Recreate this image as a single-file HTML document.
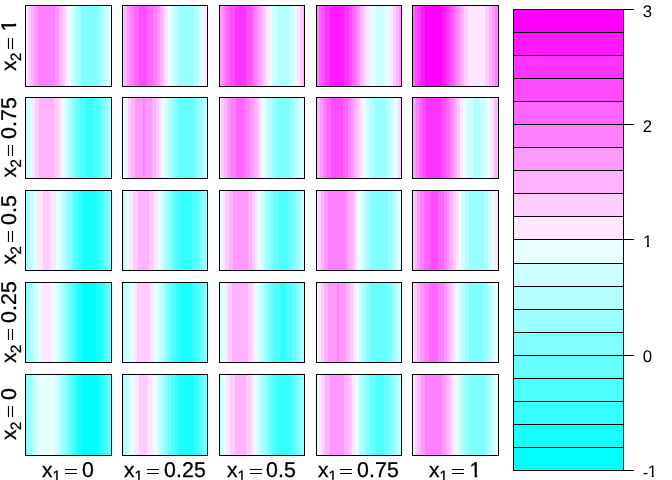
<!DOCTYPE html>
<html lang="en"><head><meta charset="utf-8"><title>plot</title>
<style>
html,body{margin:0;padding:0;background:#fff;}
body{width:672px;height:480px;overflow:hidden;position:relative;font-family:"Liberation Sans",Arial,sans-serif;color:#000;}
svg{position:absolute;left:0;top:0;display:block;}
.t{position:absolute;white-space:nowrap;line-height:1;}
</style></head><body>
<svg width="672" height="480" viewBox="0 0 672 480" shape-rendering="crispEdges">
<rect x="0" y="0" width="672" height="480" fill="#FFFFFF"/>
<g>
<rect x="26" y="6" width="2" height="80" fill="#FFE6FF"/>
<rect x="28" y="6" width="3" height="80" fill="#FFCCFF"/>
<rect x="31" y="6" width="3" height="80" fill="#FFB3FF"/>
<rect x="34" y="6" width="4" height="80" fill="#FF99FF"/>
<rect x="38" y="6" width="17" height="80" fill="#FF80FF"/>
<rect x="55" y="6" width="4" height="80" fill="#FF99FF"/>
<rect x="59" y="6" width="3" height="80" fill="#FFB3FF"/>
<rect x="62" y="6" width="3" height="80" fill="#FFCCFF"/>
<rect x="65" y="6" width="3" height="80" fill="#FFE6FF"/>
<rect x="68" y="6" width="3" height="80" fill="#E6FFFF"/>
<rect x="71" y="6" width="3" height="80" fill="#CCFFFF"/>
<rect x="74" y="6" width="3" height="80" fill="#B3FFFF"/>
<rect x="77" y="6" width="4" height="80" fill="#99FFFF"/>
<rect x="81" y="6" width="17" height="80" fill="#80FFFF"/>
<rect x="98" y="6" width="4" height="80" fill="#99FFFF"/>
<rect x="102" y="6" width="3" height="80" fill="#B3FFFF"/>
<rect x="105" y="6" width="3" height="80" fill="#CCFFFF"/>
<rect x="108" y="6" width="3" height="80" fill="#E6FFFF"/>
<rect x="25.5" y="5.5" width="86" height="81" fill="none" stroke="#000" stroke-width="1"/>
</g>
<g>
<rect x="123" y="6" width="1" height="80" fill="#FFCCFF"/>
<rect x="124" y="6" width="3" height="80" fill="#FFB3FF"/>
<rect x="127" y="6" width="3" height="80" fill="#FF99FF"/>
<rect x="130" y="6" width="4" height="80" fill="#FF80FF"/>
<rect x="134" y="6" width="5" height="80" fill="#FF66FF"/>
<rect x="139" y="6" width="8" height="80" fill="#FF4CFF"/>
<rect x="147" y="6" width="6" height="80" fill="#FF66FF"/>
<rect x="153" y="6" width="4" height="80" fill="#FF80FF"/>
<rect x="157" y="6" width="3" height="80" fill="#FF99FF"/>
<rect x="160" y="6" width="3" height="80" fill="#FFB3FF"/>
<rect x="163" y="6" width="2" height="80" fill="#FFCCFF"/>
<rect x="165" y="6" width="3" height="80" fill="#FFE6FF"/>
<rect x="168" y="6" width="3" height="80" fill="#E6FFFF"/>
<rect x="171" y="6" width="4" height="80" fill="#CCFFFF"/>
<rect x="175" y="6" width="4" height="80" fill="#B3FFFF"/>
<rect x="179" y="6" width="15" height="80" fill="#99FFFF"/>
<rect x="194" y="6" width="4" height="80" fill="#B3FFFF"/>
<rect x="198" y="6" width="3" height="80" fill="#CCFFFF"/>
<rect x="201" y="6" width="3" height="80" fill="#E6FFFF"/>
<rect x="204" y="6" width="3" height="80" fill="#FFE6FF"/>
<rect x="122.5" y="5.5" width="85" height="81" fill="none" stroke="#000" stroke-width="1"/>
</g>
<g>
<rect x="220" y="6" width="3" height="80" fill="#FF99FF"/>
<rect x="223" y="6" width="3" height="80" fill="#FF80FF"/>
<rect x="226" y="6" width="4" height="80" fill="#FF66FF"/>
<rect x="230" y="6" width="5" height="80" fill="#FF4CFF"/>
<rect x="235" y="6" width="11" height="80" fill="#FF33FF"/>
<rect x="246" y="6" width="5" height="80" fill="#FF4CFF"/>
<rect x="251" y="6" width="3" height="80" fill="#FF66FF"/>
<rect x="254" y="6" width="3" height="80" fill="#FF80FF"/>
<rect x="257" y="6" width="3" height="80" fill="#FF99FF"/>
<rect x="260" y="6" width="3" height="80" fill="#FFB3FF"/>
<rect x="263" y="6" width="3" height="80" fill="#FFCCFF"/>
<rect x="266" y="6" width="3" height="80" fill="#FFE6FF"/>
<rect x="269" y="6" width="3" height="80" fill="#E6FFFF"/>
<rect x="272" y="6" width="5" height="80" fill="#CCFFFF"/>
<rect x="277" y="6" width="12" height="80" fill="#B3FFFF"/>
<rect x="289" y="6" width="5" height="80" fill="#CCFFFF"/>
<rect x="294" y="6" width="3" height="80" fill="#E6FFFF"/>
<rect x="297" y="6" width="3" height="80" fill="#FFE6FF"/>
<rect x="300" y="6" width="3" height="80" fill="#FFCCFF"/>
<rect x="303" y="6" width="1" height="80" fill="#FFB3FF"/>
<rect x="219.5" y="5.5" width="85" height="81" fill="none" stroke="#000" stroke-width="1"/>
</g>
<g>
<rect x="317" y="6" width="2" height="80" fill="#FF80FF"/>
<rect x="319" y="6" width="3" height="80" fill="#FF66FF"/>
<rect x="322" y="6" width="3" height="80" fill="#FF4CFF"/>
<rect x="325" y="6" width="5" height="80" fill="#FF33FF"/>
<rect x="330" y="6" width="14" height="80" fill="#FF19FF"/>
<rect x="344" y="6" width="5" height="80" fill="#FF33FF"/>
<rect x="349" y="6" width="3" height="80" fill="#FF4CFF"/>
<rect x="352" y="6" width="3" height="80" fill="#FF66FF"/>
<rect x="355" y="6" width="3" height="80" fill="#FF80FF"/>
<rect x="358" y="6" width="2" height="80" fill="#FF99FF"/>
<rect x="360" y="6" width="3" height="80" fill="#FFB3FF"/>
<rect x="363" y="6" width="3" height="80" fill="#FFCCFF"/>
<rect x="366" y="6" width="4" height="80" fill="#FFE6FF"/>
<rect x="370" y="6" width="6" height="80" fill="#E6FFFF"/>
<rect x="376" y="6" width="8" height="80" fill="#CCFFFF"/>
<rect x="384" y="6" width="5" height="80" fill="#E6FFFF"/>
<rect x="389" y="6" width="4" height="80" fill="#FFE6FF"/>
<rect x="393" y="6" width="3" height="80" fill="#FFCCFF"/>
<rect x="396" y="6" width="3" height="80" fill="#FFB3FF"/>
<rect x="399" y="6" width="2" height="80" fill="#FF99FF"/>
<rect x="316.5" y="5.5" width="85" height="81" fill="none" stroke="#000" stroke-width="1"/>
</g>
<g>
<rect x="413" y="6" width="2" height="80" fill="#FF66FF"/>
<rect x="415" y="6" width="3" height="80" fill="#FF4CFF"/>
<rect x="418" y="6" width="3" height="80" fill="#FF33FF"/>
<rect x="421" y="6" width="4" height="80" fill="#FF19FF"/>
<rect x="425" y="6" width="17" height="80" fill="#FF00FF"/>
<rect x="442" y="6" width="4" height="80" fill="#FF19FF"/>
<rect x="446" y="6" width="3" height="80" fill="#FF33FF"/>
<rect x="449" y="6" width="3" height="80" fill="#FF4CFF"/>
<rect x="452" y="6" width="3" height="80" fill="#FF66FF"/>
<rect x="455" y="6" width="3" height="80" fill="#FF80FF"/>
<rect x="458" y="6" width="3" height="80" fill="#FF99FF"/>
<rect x="461" y="6" width="3" height="80" fill="#FFB3FF"/>
<rect x="464" y="6" width="4" height="80" fill="#FFCCFF"/>
<rect x="468" y="6" width="17" height="80" fill="#FFE6FF"/>
<rect x="485" y="6" width="4" height="80" fill="#FFCCFF"/>
<rect x="489" y="6" width="3" height="80" fill="#FFB3FF"/>
<rect x="492" y="6" width="3" height="80" fill="#FF99FF"/>
<rect x="495" y="6" width="3" height="80" fill="#FF80FF"/>
<rect x="412.5" y="5.5" width="86" height="81" fill="none" stroke="#000" stroke-width="1"/>
</g>
<g>
<rect x="26" y="98" width="3" height="80" fill="#CCFFFF"/>
<rect x="29" y="98" width="3" height="80" fill="#E6FFFF"/>
<rect x="32" y="98" width="3" height="80" fill="#FFE6FF"/>
<rect x="35" y="98" width="4" height="80" fill="#FFCCFF"/>
<rect x="39" y="98" width="15" height="80" fill="#FFB3FF"/>
<rect x="54" y="98" width="5" height="80" fill="#FFCCFF"/>
<rect x="59" y="98" width="3" height="80" fill="#FFE6FF"/>
<rect x="62" y="98" width="3" height="80" fill="#E6FFFF"/>
<rect x="65" y="98" width="3" height="80" fill="#CCFFFF"/>
<rect x="68" y="98" width="2" height="80" fill="#B3FFFF"/>
<rect x="70" y="98" width="3" height="80" fill="#99FFFF"/>
<rect x="73" y="98" width="3" height="80" fill="#80FFFF"/>
<rect x="76" y="98" width="4" height="80" fill="#66FFFF"/>
<rect x="80" y="98" width="6" height="80" fill="#4DFFFF"/>
<rect x="86" y="98" width="7" height="80" fill="#33FFFF"/>
<rect x="93" y="98" width="6" height="80" fill="#4DFFFF"/>
<rect x="99" y="98" width="3" height="80" fill="#66FFFF"/>
<rect x="102" y="98" width="4" height="80" fill="#80FFFF"/>
<rect x="106" y="98" width="2" height="80" fill="#99FFFF"/>
<rect x="108" y="98" width="3" height="80" fill="#B3FFFF"/>
<rect x="25.5" y="97.5" width="86" height="81" fill="none" stroke="#000" stroke-width="1"/>
</g>
<g>
<rect x="123" y="98" width="2" height="80" fill="#E6FFFF"/>
<rect x="125" y="98" width="3" height="80" fill="#FFE6FF"/>
<rect x="128" y="98" width="3" height="80" fill="#FFCCFF"/>
<rect x="131" y="98" width="4" height="80" fill="#FFB3FF"/>
<rect x="135" y="98" width="8" height="80" fill="#FF99FF"/>
<rect x="143" y="98" width="2" height="80" fill="#FF80FF"/>
<rect x="145" y="98" width="7" height="80" fill="#FF99FF"/>
<rect x="152" y="98" width="4" height="80" fill="#FFB3FF"/>
<rect x="156" y="98" width="3" height="80" fill="#FFCCFF"/>
<rect x="159" y="98" width="3" height="80" fill="#FFE6FF"/>
<rect x="162" y="98" width="3" height="80" fill="#E6FFFF"/>
<rect x="165" y="98" width="3" height="80" fill="#CCFFFF"/>
<rect x="168" y="98" width="3" height="80" fill="#B3FFFF"/>
<rect x="171" y="98" width="3" height="80" fill="#99FFFF"/>
<rect x="174" y="98" width="4" height="80" fill="#80FFFF"/>
<rect x="178" y="98" width="16" height="80" fill="#66FFFF"/>
<rect x="194" y="98" width="4" height="80" fill="#80FFFF"/>
<rect x="198" y="98" width="4" height="80" fill="#99FFFF"/>
<rect x="202" y="98" width="3" height="80" fill="#B3FFFF"/>
<rect x="205" y="98" width="2" height="80" fill="#CCFFFF"/>
<rect x="122.5" y="97.5" width="85" height="81" fill="none" stroke="#000" stroke-width="1"/>
</g>
<g>
<rect x="220" y="98" width="1" height="80" fill="#FFE6FF"/>
<rect x="221" y="98" width="3" height="80" fill="#FFCCFF"/>
<rect x="224" y="98" width="3" height="80" fill="#FFB3FF"/>
<rect x="227" y="98" width="3" height="80" fill="#FF99FF"/>
<rect x="230" y="98" width="6" height="80" fill="#FF80FF"/>
<rect x="236" y="98" width="9" height="80" fill="#FF66FF"/>
<rect x="245" y="98" width="5" height="80" fill="#FF80FF"/>
<rect x="250" y="98" width="4" height="80" fill="#FF99FF"/>
<rect x="254" y="98" width="3" height="80" fill="#FFB3FF"/>
<rect x="257" y="98" width="3" height="80" fill="#FFCCFF"/>
<rect x="260" y="98" width="2" height="80" fill="#FFE6FF"/>
<rect x="262" y="98" width="3" height="80" fill="#E6FFFF"/>
<rect x="265" y="98" width="3" height="80" fill="#CCFFFF"/>
<rect x="268" y="98" width="4" height="80" fill="#B3FFFF"/>
<rect x="272" y="98" width="4" height="80" fill="#99FFFF"/>
<rect x="276" y="98" width="14" height="80" fill="#80FFFF"/>
<rect x="290" y="98" width="4" height="80" fill="#99FFFF"/>
<rect x="294" y="98" width="4" height="80" fill="#B3FFFF"/>
<rect x="298" y="98" width="3" height="80" fill="#CCFFFF"/>
<rect x="301" y="98" width="2" height="80" fill="#E6FFFF"/>
<rect x="303" y="98" width="1" height="80" fill="#FFE6FF"/>
<rect x="219.5" y="97.5" width="85" height="81" fill="none" stroke="#000" stroke-width="1"/>
</g>
<g>
<rect x="317" y="98" width="3" height="80" fill="#FFB3FF"/>
<rect x="320" y="98" width="3" height="80" fill="#FF99FF"/>
<rect x="323" y="98" width="3" height="80" fill="#FF80FF"/>
<rect x="326" y="98" width="5" height="80" fill="#FF66FF"/>
<rect x="331" y="98" width="12" height="80" fill="#FF4CFF"/>
<rect x="343" y="98" width="5" height="80" fill="#FF66FF"/>
<rect x="348" y="98" width="3" height="80" fill="#FF80FF"/>
<rect x="351" y="98" width="3" height="80" fill="#FF99FF"/>
<rect x="354" y="98" width="3" height="80" fill="#FFB3FF"/>
<rect x="357" y="98" width="3" height="80" fill="#FFCCFF"/>
<rect x="360" y="98" width="3" height="80" fill="#FFE6FF"/>
<rect x="363" y="98" width="3" height="80" fill="#E6FFFF"/>
<rect x="366" y="98" width="3" height="80" fill="#CCFFFF"/>
<rect x="369" y="98" width="5" height="80" fill="#B3FFFF"/>
<rect x="374" y="98" width="11" height="80" fill="#99FFFF"/>
<rect x="385" y="98" width="5" height="80" fill="#B3FFFF"/>
<rect x="390" y="98" width="4" height="80" fill="#CCFFFF"/>
<rect x="394" y="98" width="3" height="80" fill="#E6FFFF"/>
<rect x="397" y="98" width="2" height="80" fill="#FFE6FF"/>
<rect x="399" y="98" width="2" height="80" fill="#FFCCFF"/>
<rect x="316.5" y="97.5" width="85" height="81" fill="none" stroke="#000" stroke-width="1"/>
</g>
<g>
<rect x="413" y="98" width="3" height="80" fill="#FF99FF"/>
<rect x="416" y="98" width="3" height="80" fill="#FF80FF"/>
<rect x="419" y="98" width="3" height="80" fill="#FF66FF"/>
<rect x="422" y="98" width="4" height="80" fill="#FF4CFF"/>
<rect x="426" y="98" width="15" height="80" fill="#FF33FF"/>
<rect x="441" y="98" width="5" height="80" fill="#FF4CFF"/>
<rect x="446" y="98" width="3" height="80" fill="#FF66FF"/>
<rect x="449" y="98" width="3" height="80" fill="#FF80FF"/>
<rect x="452" y="98" width="3" height="80" fill="#FF99FF"/>
<rect x="455" y="98" width="2" height="80" fill="#FFB3FF"/>
<rect x="457" y="98" width="3" height="80" fill="#FFCCFF"/>
<rect x="460" y="98" width="3" height="80" fill="#FFE6FF"/>
<rect x="463" y="98" width="4" height="80" fill="#E6FFFF"/>
<rect x="467" y="98" width="6" height="80" fill="#CCFFFF"/>
<rect x="473" y="98" width="7" height="80" fill="#B3FFFF"/>
<rect x="480" y="98" width="6" height="80" fill="#CCFFFF"/>
<rect x="486" y="98" width="4" height="80" fill="#E6FFFF"/>
<rect x="490" y="98" width="3" height="80" fill="#FFE6FF"/>
<rect x="493" y="98" width="2" height="80" fill="#FFCCFF"/>
<rect x="495" y="98" width="3" height="80" fill="#FFB3FF"/>
<rect x="412.5" y="97.5" width="86" height="81" fill="none" stroke="#000" stroke-width="1"/>
</g>
<g>
<rect x="26" y="191" width="1" height="79" fill="#99FFFF"/>
<rect x="27" y="191" width="3" height="79" fill="#B3FFFF"/>
<rect x="30" y="191" width="3" height="79" fill="#CCFFFF"/>
<rect x="33" y="191" width="4" height="79" fill="#E6FFFF"/>
<rect x="37" y="191" width="6" height="79" fill="#FFE6FF"/>
<rect x="43" y="191" width="7" height="79" fill="#FFCCFF"/>
<rect x="50" y="191" width="6" height="79" fill="#FFE6FF"/>
<rect x="56" y="191" width="4" height="79" fill="#E6FFFF"/>
<rect x="60" y="191" width="3" height="79" fill="#CCFFFF"/>
<rect x="63" y="191" width="3" height="79" fill="#B3FFFF"/>
<rect x="66" y="191" width="3" height="79" fill="#99FFFF"/>
<rect x="69" y="191" width="3" height="79" fill="#80FFFF"/>
<rect x="72" y="191" width="2" height="79" fill="#66FFFF"/>
<rect x="74" y="191" width="4" height="79" fill="#4DFFFF"/>
<rect x="78" y="191" width="4" height="79" fill="#33FFFF"/>
<rect x="82" y="191" width="15" height="79" fill="#19FFFF"/>
<rect x="97" y="191" width="4" height="79" fill="#33FFFF"/>
<rect x="101" y="191" width="3" height="79" fill="#4DFFFF"/>
<rect x="104" y="191" width="3" height="79" fill="#66FFFF"/>
<rect x="107" y="191" width="3" height="79" fill="#80FFFF"/>
<rect x="110" y="191" width="1" height="79" fill="#99FFFF"/>
<rect x="25.5" y="190.5" width="86" height="80" fill="none" stroke="#000" stroke-width="1"/>
</g>
<g>
<rect x="123" y="191" width="1" height="79" fill="#B3FFFF"/>
<rect x="124" y="191" width="2" height="79" fill="#CCFFFF"/>
<rect x="126" y="191" width="3" height="79" fill="#E6FFFF"/>
<rect x="129" y="191" width="4" height="79" fill="#FFE6FF"/>
<rect x="133" y="191" width="5" height="79" fill="#FFCCFF"/>
<rect x="138" y="191" width="11" height="79" fill="#FFB3FF"/>
<rect x="149" y="191" width="5" height="79" fill="#FFCCFF"/>
<rect x="154" y="191" width="4" height="79" fill="#FFE6FF"/>
<rect x="158" y="191" width="3" height="79" fill="#E6FFFF"/>
<rect x="161" y="191" width="2" height="79" fill="#CCFFFF"/>
<rect x="163" y="191" width="3" height="79" fill="#B3FFFF"/>
<rect x="166" y="191" width="3" height="79" fill="#99FFFF"/>
<rect x="169" y="191" width="3" height="79" fill="#80FFFF"/>
<rect x="172" y="191" width="3" height="79" fill="#66FFFF"/>
<rect x="175" y="191" width="5" height="79" fill="#4DFFFF"/>
<rect x="180" y="191" width="12" height="79" fill="#33FFFF"/>
<rect x="192" y="191" width="5" height="79" fill="#4DFFFF"/>
<rect x="197" y="191" width="3" height="79" fill="#66FFFF"/>
<rect x="200" y="191" width="3" height="79" fill="#80FFFF"/>
<rect x="203" y="191" width="3" height="79" fill="#99FFFF"/>
<rect x="206" y="191" width="1" height="79" fill="#B3FFFF"/>
<rect x="122.5" y="190.5" width="85" height="80" fill="none" stroke="#000" stroke-width="1"/>
</g>
<g>
<rect x="220" y="191" width="2" height="79" fill="#E6FFFF"/>
<rect x="222" y="191" width="3" height="79" fill="#FFE6FF"/>
<rect x="225" y="191" width="4" height="79" fill="#FFCCFF"/>
<rect x="229" y="191" width="4" height="79" fill="#FFB3FF"/>
<rect x="233" y="191" width="15" height="79" fill="#FF99FF"/>
<rect x="248" y="191" width="4" height="79" fill="#FFB3FF"/>
<rect x="252" y="191" width="3" height="79" fill="#FFCCFF"/>
<rect x="255" y="191" width="3" height="79" fill="#FFE6FF"/>
<rect x="258" y="191" width="3" height="79" fill="#E6FFFF"/>
<rect x="261" y="191" width="3" height="79" fill="#CCFFFF"/>
<rect x="264" y="191" width="2" height="79" fill="#B3FFFF"/>
<rect x="266" y="191" width="4" height="79" fill="#99FFFF"/>
<rect x="270" y="191" width="3" height="79" fill="#80FFFF"/>
<rect x="273" y="191" width="6" height="79" fill="#66FFFF"/>
<rect x="279" y="191" width="8" height="79" fill="#4DFFFF"/>
<rect x="287" y="191" width="5" height="79" fill="#66FFFF"/>
<rect x="292" y="191" width="4" height="79" fill="#80FFFF"/>
<rect x="296" y="191" width="3" height="79" fill="#99FFFF"/>
<rect x="299" y="191" width="3" height="79" fill="#B3FFFF"/>
<rect x="302" y="191" width="2" height="79" fill="#CCFFFF"/>
<rect x="219.5" y="190.5" width="85" height="80" fill="none" stroke="#000" stroke-width="1"/>
</g>
<g>
<rect x="317" y="191" width="1" height="79" fill="#FFE6FF"/>
<rect x="318" y="191" width="3" height="79" fill="#FFCCFF"/>
<rect x="321" y="191" width="3" height="79" fill="#FFB3FF"/>
<rect x="324" y="191" width="4" height="79" fill="#FF99FF"/>
<rect x="328" y="191" width="18" height="79" fill="#FF80FF"/>
<rect x="346" y="191" width="3" height="79" fill="#FF99FF"/>
<rect x="349" y="191" width="4" height="79" fill="#FFB3FF"/>
<rect x="353" y="191" width="3" height="79" fill="#FFCCFF"/>
<rect x="356" y="191" width="2" height="79" fill="#FFE6FF"/>
<rect x="358" y="191" width="3" height="79" fill="#E6FFFF"/>
<rect x="361" y="191" width="3" height="79" fill="#CCFFFF"/>
<rect x="364" y="191" width="3" height="79" fill="#B3FFFF"/>
<rect x="367" y="191" width="4" height="79" fill="#99FFFF"/>
<rect x="371" y="191" width="17" height="79" fill="#80FFFF"/>
<rect x="388" y="191" width="4" height="79" fill="#99FFFF"/>
<rect x="392" y="191" width="3" height="79" fill="#B3FFFF"/>
<rect x="395" y="191" width="3" height="79" fill="#CCFFFF"/>
<rect x="398" y="191" width="3" height="79" fill="#E6FFFF"/>
<rect x="316.5" y="190.5" width="85" height="80" fill="none" stroke="#000" stroke-width="1"/>
</g>
<g>
<rect x="413" y="191" width="2" height="79" fill="#FFCCFF"/>
<rect x="415" y="191" width="2" height="79" fill="#FFB3FF"/>
<rect x="417" y="191" width="3" height="79" fill="#FF99FF"/>
<rect x="420" y="191" width="4" height="79" fill="#FF80FF"/>
<rect x="424" y="191" width="6" height="79" fill="#FF66FF"/>
<rect x="430" y="191" width="8" height="79" fill="#FF4CFF"/>
<rect x="438" y="191" width="6" height="79" fill="#FF66FF"/>
<rect x="444" y="191" width="3" height="79" fill="#FF80FF"/>
<rect x="447" y="191" width="3" height="79" fill="#FF99FF"/>
<rect x="450" y="191" width="3" height="79" fill="#FFB3FF"/>
<rect x="453" y="191" width="3" height="79" fill="#FFCCFF"/>
<rect x="456" y="191" width="3" height="79" fill="#FFE6FF"/>
<rect x="459" y="191" width="2" height="79" fill="#E6FFFF"/>
<rect x="461" y="191" width="4" height="79" fill="#CCFFFF"/>
<rect x="465" y="191" width="4" height="79" fill="#B3FFFF"/>
<rect x="469" y="191" width="15" height="79" fill="#99FFFF"/>
<rect x="484" y="191" width="4" height="79" fill="#B3FFFF"/>
<rect x="488" y="191" width="3" height="79" fill="#CCFFFF"/>
<rect x="491" y="191" width="3" height="79" fill="#E6FFFF"/>
<rect x="494" y="191" width="3" height="79" fill="#FFE6FF"/>
<rect x="497" y="191" width="1" height="79" fill="#FFCCFF"/>
<rect x="412.5" y="190.5" width="86" height="80" fill="none" stroke="#000" stroke-width="1"/>
</g>
<g>
<rect x="26" y="283" width="1" height="79" fill="#80FFFF"/>
<rect x="27" y="283" width="3" height="79" fill="#99FFFF"/>
<rect x="30" y="283" width="3" height="79" fill="#B3FFFF"/>
<rect x="33" y="283" width="4" height="79" fill="#CCFFFF"/>
<rect x="37" y="283" width="5" height="79" fill="#E6FFFF"/>
<rect x="42" y="283" width="9" height="79" fill="#FFE6FF"/>
<rect x="51" y="283" width="6" height="79" fill="#E6FFFF"/>
<rect x="57" y="283" width="3" height="79" fill="#CCFFFF"/>
<rect x="60" y="283" width="3" height="79" fill="#B3FFFF"/>
<rect x="63" y="283" width="3" height="79" fill="#99FFFF"/>
<rect x="66" y="283" width="3" height="79" fill="#80FFFF"/>
<rect x="69" y="283" width="3" height="79" fill="#66FFFF"/>
<rect x="72" y="283" width="3" height="79" fill="#4DFFFF"/>
<rect x="75" y="283" width="3" height="79" fill="#33FFFF"/>
<rect x="78" y="283" width="4" height="79" fill="#19FFFF"/>
<rect x="82" y="283" width="14" height="79" fill="#00FFFF"/>
<rect x="96" y="283" width="5" height="79" fill="#19FFFF"/>
<rect x="101" y="283" width="3" height="79" fill="#33FFFF"/>
<rect x="104" y="283" width="3" height="79" fill="#4DFFFF"/>
<rect x="107" y="283" width="3" height="79" fill="#66FFFF"/>
<rect x="110" y="283" width="1" height="79" fill="#80FFFF"/>
<rect x="25.5" y="282.5" width="86" height="80" fill="none" stroke="#000" stroke-width="1"/>
</g>
<g>
<rect x="123" y="283" width="3" height="79" fill="#B3FFFF"/>
<rect x="126" y="283" width="3" height="79" fill="#CCFFFF"/>
<rect x="129" y="283" width="4" height="79" fill="#E6FFFF"/>
<rect x="133" y="283" width="4" height="79" fill="#FFE6FF"/>
<rect x="137" y="283" width="13" height="79" fill="#FFCCFF"/>
<rect x="150" y="283" width="4" height="79" fill="#FFE6FF"/>
<rect x="154" y="283" width="4" height="79" fill="#E6FFFF"/>
<rect x="158" y="283" width="3" height="79" fill="#CCFFFF"/>
<rect x="161" y="283" width="3" height="79" fill="#B3FFFF"/>
<rect x="164" y="283" width="2" height="79" fill="#99FFFF"/>
<rect x="166" y="283" width="3" height="79" fill="#80FFFF"/>
<rect x="169" y="283" width="3" height="79" fill="#66FFFF"/>
<rect x="172" y="283" width="4" height="79" fill="#4DFFFF"/>
<rect x="176" y="283" width="4" height="79" fill="#33FFFF"/>
<rect x="180" y="283" width="11" height="79" fill="#19FFFF"/>
<rect x="191" y="283" width="5" height="79" fill="#33FFFF"/>
<rect x="196" y="283" width="4" height="79" fill="#4DFFFF"/>
<rect x="200" y="283" width="3" height="79" fill="#66FFFF"/>
<rect x="203" y="283" width="3" height="79" fill="#80FFFF"/>
<rect x="206" y="283" width="1" height="79" fill="#99FFFF"/>
<rect x="122.5" y="282.5" width="85" height="80" fill="none" stroke="#000" stroke-width="1"/>
</g>
<g>
<rect x="220" y="283" width="2" height="79" fill="#CCFFFF"/>
<rect x="222" y="283" width="3" height="79" fill="#E6FFFF"/>
<rect x="225" y="283" width="3" height="79" fill="#FFE6FF"/>
<rect x="228" y="283" width="4" height="79" fill="#FFCCFF"/>
<rect x="232" y="283" width="16" height="79" fill="#FFB3FF"/>
<rect x="248" y="283" width="4" height="79" fill="#FFCCFF"/>
<rect x="252" y="283" width="3" height="79" fill="#FFE6FF"/>
<rect x="255" y="283" width="3" height="79" fill="#E6FFFF"/>
<rect x="258" y="283" width="3" height="79" fill="#CCFFFF"/>
<rect x="261" y="283" width="3" height="79" fill="#B3FFFF"/>
<rect x="264" y="283" width="3" height="79" fill="#99FFFF"/>
<rect x="267" y="283" width="3" height="79" fill="#80FFFF"/>
<rect x="270" y="283" width="3" height="79" fill="#66FFFF"/>
<rect x="273" y="283" width="7" height="79" fill="#4DFFFF"/>
<rect x="280" y="283" width="6" height="79" fill="#33FFFF"/>
<rect x="286" y="283" width="6" height="79" fill="#4DFFFF"/>
<rect x="292" y="283" width="4" height="79" fill="#66FFFF"/>
<rect x="296" y="283" width="3" height="79" fill="#80FFFF"/>
<rect x="299" y="283" width="3" height="79" fill="#99FFFF"/>
<rect x="302" y="283" width="2" height="79" fill="#B3FFFF"/>
<rect x="219.5" y="282.5" width="85" height="80" fill="none" stroke="#000" stroke-width="1"/>
</g>
<g>
<rect x="317" y="283" width="1" height="79" fill="#E6FFFF"/>
<rect x="318" y="283" width="3" height="79" fill="#FFE6FF"/>
<rect x="321" y="283" width="3" height="79" fill="#FFCCFF"/>
<rect x="324" y="283" width="4" height="79" fill="#FFB3FF"/>
<rect x="328" y="283" width="9" height="79" fill="#FF99FF"/>
<rect x="337" y="283" width="2" height="79" fill="#FF80FF"/>
<rect x="339" y="283" width="7" height="79" fill="#FF99FF"/>
<rect x="346" y="283" width="4" height="79" fill="#FFB3FF"/>
<rect x="350" y="283" width="3" height="79" fill="#FFCCFF"/>
<rect x="353" y="283" width="3" height="79" fill="#FFE6FF"/>
<rect x="356" y="283" width="3" height="79" fill="#E6FFFF"/>
<rect x="359" y="283" width="2" height="79" fill="#CCFFFF"/>
<rect x="361" y="283" width="3" height="79" fill="#B3FFFF"/>
<rect x="364" y="283" width="3" height="79" fill="#99FFFF"/>
<rect x="367" y="283" width="4" height="79" fill="#80FFFF"/>
<rect x="371" y="283" width="17" height="79" fill="#66FFFF"/>
<rect x="388" y="283" width="4" height="79" fill="#80FFFF"/>
<rect x="392" y="283" width="3" height="79" fill="#99FFFF"/>
<rect x="395" y="283" width="3" height="79" fill="#B3FFFF"/>
<rect x="398" y="283" width="3" height="79" fill="#CCFFFF"/>
<rect x="316.5" y="282.5" width="85" height="80" fill="none" stroke="#000" stroke-width="1"/>
</g>
<g>
<rect x="413" y="283" width="1" height="79" fill="#FFE6FF"/>
<rect x="414" y="283" width="3" height="79" fill="#FFCCFF"/>
<rect x="417" y="283" width="3" height="79" fill="#FFB3FF"/>
<rect x="420" y="283" width="4" height="79" fill="#FF99FF"/>
<rect x="424" y="283" width="5" height="79" fill="#FF80FF"/>
<rect x="429" y="283" width="9" height="79" fill="#FF66FF"/>
<rect x="438" y="283" width="6" height="79" fill="#FF80FF"/>
<rect x="444" y="283" width="3" height="79" fill="#FF99FF"/>
<rect x="447" y="283" width="3" height="79" fill="#FFB3FF"/>
<rect x="450" y="283" width="3" height="79" fill="#FFCCFF"/>
<rect x="453" y="283" width="3" height="79" fill="#FFE6FF"/>
<rect x="456" y="283" width="3" height="79" fill="#E6FFFF"/>
<rect x="459" y="283" width="3" height="79" fill="#CCFFFF"/>
<rect x="462" y="283" width="3" height="79" fill="#B3FFFF"/>
<rect x="465" y="283" width="4" height="79" fill="#99FFFF"/>
<rect x="469" y="283" width="14" height="79" fill="#80FFFF"/>
<rect x="483" y="283" width="5" height="79" fill="#99FFFF"/>
<rect x="488" y="283" width="3" height="79" fill="#B3FFFF"/>
<rect x="491" y="283" width="3" height="79" fill="#CCFFFF"/>
<rect x="494" y="283" width="3" height="79" fill="#E6FFFF"/>
<rect x="497" y="283" width="1" height="79" fill="#FFE6FF"/>
<rect x="412.5" y="282.5" width="86" height="80" fill="none" stroke="#000" stroke-width="1"/>
</g>
<g>
<rect x="26" y="375" width="2" height="80" fill="#80FFFF"/>
<rect x="28" y="375" width="3" height="80" fill="#99FFFF"/>
<rect x="31" y="375" width="3" height="80" fill="#B3FFFF"/>
<rect x="34" y="375" width="4" height="80" fill="#CCFFFF"/>
<rect x="38" y="375" width="17" height="80" fill="#E6FFFF"/>
<rect x="55" y="375" width="4" height="80" fill="#CCFFFF"/>
<rect x="59" y="375" width="3" height="80" fill="#B3FFFF"/>
<rect x="62" y="375" width="3" height="80" fill="#99FFFF"/>
<rect x="65" y="375" width="3" height="80" fill="#80FFFF"/>
<rect x="68" y="375" width="3" height="80" fill="#66FFFF"/>
<rect x="71" y="375" width="3" height="80" fill="#4DFFFF"/>
<rect x="74" y="375" width="3" height="80" fill="#33FFFF"/>
<rect x="77" y="375" width="4" height="80" fill="#19FFFF"/>
<rect x="81" y="375" width="17" height="80" fill="#00FFFF"/>
<rect x="98" y="375" width="4" height="80" fill="#19FFFF"/>
<rect x="102" y="375" width="3" height="80" fill="#33FFFF"/>
<rect x="105" y="375" width="3" height="80" fill="#4DFFFF"/>
<rect x="108" y="375" width="3" height="80" fill="#66FFFF"/>
<rect x="25.5" y="374.5" width="86" height="81" fill="none" stroke="#000" stroke-width="1"/>
</g>
<g>
<rect x="123" y="375" width="1" height="80" fill="#99FFFF"/>
<rect x="124" y="375" width="3" height="80" fill="#B3FFFF"/>
<rect x="127" y="375" width="3" height="80" fill="#CCFFFF"/>
<rect x="130" y="375" width="4" height="80" fill="#E6FFFF"/>
<rect x="134" y="375" width="5" height="80" fill="#FFE6FF"/>
<rect x="139" y="375" width="8" height="80" fill="#FFCCFF"/>
<rect x="147" y="375" width="6" height="80" fill="#FFE6FF"/>
<rect x="153" y="375" width="4" height="80" fill="#E6FFFF"/>
<rect x="157" y="375" width="3" height="80" fill="#CCFFFF"/>
<rect x="160" y="375" width="3" height="80" fill="#B3FFFF"/>
<rect x="163" y="375" width="2" height="80" fill="#99FFFF"/>
<rect x="165" y="375" width="3" height="80" fill="#80FFFF"/>
<rect x="168" y="375" width="3" height="80" fill="#66FFFF"/>
<rect x="171" y="375" width="4" height="80" fill="#4DFFFF"/>
<rect x="175" y="375" width="4" height="80" fill="#33FFFF"/>
<rect x="179" y="375" width="15" height="80" fill="#19FFFF"/>
<rect x="194" y="375" width="4" height="80" fill="#33FFFF"/>
<rect x="198" y="375" width="3" height="80" fill="#4DFFFF"/>
<rect x="201" y="375" width="3" height="80" fill="#66FFFF"/>
<rect x="204" y="375" width="3" height="80" fill="#80FFFF"/>
<rect x="122.5" y="374.5" width="85" height="81" fill="none" stroke="#000" stroke-width="1"/>
</g>
<g>
<rect x="220" y="375" width="3" height="80" fill="#CCFFFF"/>
<rect x="223" y="375" width="3" height="80" fill="#E6FFFF"/>
<rect x="226" y="375" width="4" height="80" fill="#FFE6FF"/>
<rect x="230" y="375" width="5" height="80" fill="#FFCCFF"/>
<rect x="235" y="375" width="11" height="80" fill="#FFB3FF"/>
<rect x="246" y="375" width="5" height="80" fill="#FFCCFF"/>
<rect x="251" y="375" width="3" height="80" fill="#FFE6FF"/>
<rect x="254" y="375" width="3" height="80" fill="#E6FFFF"/>
<rect x="257" y="375" width="3" height="80" fill="#CCFFFF"/>
<rect x="260" y="375" width="3" height="80" fill="#B3FFFF"/>
<rect x="263" y="375" width="3" height="80" fill="#99FFFF"/>
<rect x="266" y="375" width="3" height="80" fill="#80FFFF"/>
<rect x="269" y="375" width="3" height="80" fill="#66FFFF"/>
<rect x="272" y="375" width="5" height="80" fill="#4DFFFF"/>
<rect x="277" y="375" width="12" height="80" fill="#33FFFF"/>
<rect x="289" y="375" width="5" height="80" fill="#4DFFFF"/>
<rect x="294" y="375" width="3" height="80" fill="#66FFFF"/>
<rect x="297" y="375" width="3" height="80" fill="#80FFFF"/>
<rect x="300" y="375" width="3" height="80" fill="#99FFFF"/>
<rect x="303" y="375" width="1" height="80" fill="#B3FFFF"/>
<rect x="219.5" y="374.5" width="85" height="81" fill="none" stroke="#000" stroke-width="1"/>
</g>
<g>
<rect x="317" y="375" width="2" height="80" fill="#E6FFFF"/>
<rect x="319" y="375" width="3" height="80" fill="#FFE6FF"/>
<rect x="322" y="375" width="3" height="80" fill="#FFCCFF"/>
<rect x="325" y="375" width="5" height="80" fill="#FFB3FF"/>
<rect x="330" y="375" width="14" height="80" fill="#FF99FF"/>
<rect x="344" y="375" width="5" height="80" fill="#FFB3FF"/>
<rect x="349" y="375" width="3" height="80" fill="#FFCCFF"/>
<rect x="352" y="375" width="3" height="80" fill="#FFE6FF"/>
<rect x="355" y="375" width="3" height="80" fill="#E6FFFF"/>
<rect x="358" y="375" width="2" height="80" fill="#CCFFFF"/>
<rect x="360" y="375" width="3" height="80" fill="#B3FFFF"/>
<rect x="363" y="375" width="3" height="80" fill="#99FFFF"/>
<rect x="366" y="375" width="4" height="80" fill="#80FFFF"/>
<rect x="370" y="375" width="6" height="80" fill="#66FFFF"/>
<rect x="376" y="375" width="8" height="80" fill="#4DFFFF"/>
<rect x="384" y="375" width="5" height="80" fill="#66FFFF"/>
<rect x="389" y="375" width="4" height="80" fill="#80FFFF"/>
<rect x="393" y="375" width="3" height="80" fill="#99FFFF"/>
<rect x="396" y="375" width="3" height="80" fill="#B3FFFF"/>
<rect x="399" y="375" width="2" height="80" fill="#CCFFFF"/>
<rect x="316.5" y="374.5" width="85" height="81" fill="none" stroke="#000" stroke-width="1"/>
</g>
<g>
<rect x="413" y="375" width="2" height="80" fill="#FFE6FF"/>
<rect x="415" y="375" width="3" height="80" fill="#FFCCFF"/>
<rect x="418" y="375" width="3" height="80" fill="#FFB3FF"/>
<rect x="421" y="375" width="4" height="80" fill="#FF99FF"/>
<rect x="425" y="375" width="17" height="80" fill="#FF80FF"/>
<rect x="442" y="375" width="4" height="80" fill="#FF99FF"/>
<rect x="446" y="375" width="3" height="80" fill="#FFB3FF"/>
<rect x="449" y="375" width="3" height="80" fill="#FFCCFF"/>
<rect x="452" y="375" width="3" height="80" fill="#FFE6FF"/>
<rect x="455" y="375" width="3" height="80" fill="#E6FFFF"/>
<rect x="458" y="375" width="3" height="80" fill="#CCFFFF"/>
<rect x="461" y="375" width="3" height="80" fill="#B3FFFF"/>
<rect x="464" y="375" width="4" height="80" fill="#99FFFF"/>
<rect x="468" y="375" width="17" height="80" fill="#80FFFF"/>
<rect x="485" y="375" width="4" height="80" fill="#99FFFF"/>
<rect x="489" y="375" width="3" height="80" fill="#B3FFFF"/>
<rect x="492" y="375" width="3" height="80" fill="#CCFFFF"/>
<rect x="495" y="375" width="3" height="80" fill="#E6FFFF"/>
<rect x="412.5" y="374.5" width="86" height="81" fill="none" stroke="#000" stroke-width="1"/>
</g>
<rect x="514" y="448" width="109" height="22" fill="#00FFFF"/>
<rect x="514" y="425" width="109" height="22" fill="#19FFFF"/>
<rect x="514" y="402" width="109" height="22" fill="#33FFFF"/>
<rect x="514" y="379" width="109" height="22" fill="#4DFFFF"/>
<rect x="514" y="356" width="109" height="22" fill="#66FFFF"/>
<rect x="514" y="333" width="109" height="22" fill="#80FFFF"/>
<rect x="514" y="310" width="109" height="22" fill="#99FFFF"/>
<rect x="514" y="287" width="109" height="22" fill="#B3FFFF"/>
<rect x="514" y="264" width="109" height="22" fill="#CCFFFF"/>
<rect x="514" y="240" width="109" height="23" fill="#E6FFFF"/>
<rect x="514" y="217" width="109" height="22" fill="#FFE6FF"/>
<rect x="514" y="194" width="109" height="22" fill="#FFCCFF"/>
<rect x="514" y="171" width="109" height="22" fill="#FFB3FF"/>
<rect x="514" y="148" width="109" height="22" fill="#FF99FF"/>
<rect x="514" y="125" width="109" height="22" fill="#FF80FF"/>
<rect x="514" y="102" width="109" height="22" fill="#FF66FF"/>
<rect x="514" y="79" width="109" height="22" fill="#FF4CFF"/>
<rect x="514" y="56" width="109" height="22" fill="#FF33FF"/>
<rect x="514" y="33" width="109" height="22" fill="#FF19FF"/>
<rect x="514" y="10" width="109" height="22" fill="#FF00FF"/>
<rect x="513" y="9" width="111" height="1" fill="#000"/>
<rect x="513" y="32" width="111" height="1" fill="#000"/>
<rect x="513" y="55" width="111" height="1" fill="#000"/>
<rect x="513" y="78" width="111" height="1" fill="#000"/>
<rect x="513" y="101" width="111" height="1" fill="#000"/>
<rect x="513" y="124" width="111" height="1" fill="#000"/>
<rect x="513" y="147" width="111" height="1" fill="#000"/>
<rect x="513" y="170" width="111" height="1" fill="#000"/>
<rect x="513" y="193" width="111" height="1" fill="#000"/>
<rect x="513" y="216" width="111" height="1" fill="#000"/>
<rect x="513" y="239" width="111" height="1" fill="#000"/>
<rect x="513" y="263" width="111" height="1" fill="#000"/>
<rect x="513" y="286" width="111" height="1" fill="#000"/>
<rect x="513" y="309" width="111" height="1" fill="#000"/>
<rect x="513" y="332" width="111" height="1" fill="#000"/>
<rect x="513" y="355" width="111" height="1" fill="#000"/>
<rect x="513" y="378" width="111" height="1" fill="#000"/>
<rect x="513" y="401" width="111" height="1" fill="#000"/>
<rect x="513" y="424" width="111" height="1" fill="#000"/>
<rect x="513" y="447" width="111" height="1" fill="#000"/>
<rect x="513" y="470" width="111" height="1" fill="#000"/>
<rect x="513" y="9" width="1" height="462" fill="#000"/>
<rect x="623" y="9" width="1" height="462" fill="#000"/>
<rect x="624" y="9" width="10" height="1" fill="#000"/>
<rect x="624" y="124" width="10" height="1" fill="#000"/>
<rect x="624" y="239" width="10" height="1" fill="#000"/>
<rect x="624" y="355" width="10" height="1" fill="#000"/>
<rect x="624" y="470" width="10" height="1" fill="#000"/>
<defs><clipPath id="c1m" clipPathUnits="userSpaceOnUse"><rect x="-2" y="-25.596" width="25.33" height="23.2525"/><rect x="5.06375" y="-25.596" width="2.48512" height="26.596"/></clipPath><clipPath id="c1s" clipPathUnits="userSpaceOnUse"><rect x="-2" y="-18" width="19" height="16.1294"/><rect x="3.47197" y="-18" width="1.92568" height="19"/></clipPath><clipPath id="c1l" clipPathUnits="userSpaceOnUse"><rect x="-2" y="-20.16" width="20.8" height="18.1549"/><rect x="3.92461" y="-20.16" width="2.08477" height="21.16"/></clipPath></defs>
<g font-family="Liberation Sans, Arial, sans-serif" fill="#000" stroke="#000" stroke-width="0.3" shape-rendering="auto" text-rendering="geometricPrecision">
<g transform="translate(0,477)"><text x="42.1" y="0" font-size="21">x</text><g transform="translate(52.4,3.6)"><text x="0" y="0" font-size="15" clip-path="url(#c1s)">1</text></g><text transform="translate(63.794,-0.23) rotate(0.03) scale(1.54372,1)" font-size="16" stroke="none">=</text><text x="82" y="0" font-size="21.33">0</text></g>
<g transform="translate(0,477)"><text x="124.1" y="0" font-size="21">x</text><g transform="translate(134.4,3.6)"><text x="0" y="0" font-size="15" clip-path="url(#c1s)">1</text></g><text transform="translate(145.794,-0.23) rotate(0.03) scale(1.54372,1)" font-size="16" stroke="none">=</text><text x="164 176 182 194" y="0" font-size="21.33">0.25</text></g>
<g transform="translate(0,477)"><text x="227.1" y="0" font-size="21">x</text><g transform="translate(237.4,3.6)"><text x="0" y="0" font-size="15" clip-path="url(#c1s)">1</text></g><text transform="translate(248.794,-0.23) rotate(0.03) scale(1.54372,1)" font-size="16" stroke="none">=</text><text x="266 278 284" y="0" font-size="21.33">0.5</text></g>
<g transform="translate(0,477)"><text x="318.1" y="0" font-size="21">x</text><g transform="translate(328.4,3.6)"><text x="0" y="0" font-size="15" clip-path="url(#c1s)">1</text></g><text transform="translate(338.794,-0.23) rotate(0.03) scale(1.54372,1)" font-size="16" stroke="none">=</text><text x="357 369 375 387" y="0" font-size="21.33">0.75</text></g>
<g transform="translate(0,477)"><text x="429.1" y="0" font-size="21">x</text><g transform="translate(439.4,3.6)"><text x="0" y="0" font-size="15" clip-path="url(#c1s)">1</text></g><text transform="translate(450.794,-0.23) rotate(0.03) scale(1.54372,1)" font-size="16" stroke="none">=</text><g transform="translate(469.6,0)"><text x="0" y="0" font-size="21.33" clip-path="url(#c1m)">1</text></g></g>
<g transform="translate(16,71) rotate(-90)"><text x="0.1" y="0" font-size="21">x</text><text x="10.1" y="5" font-size="15">2</text><text transform="translate(20.8945,-0.23) rotate(0.03) scale(1.41508,1)" font-size="16" stroke="none">=</text><g transform="translate(39.6,0)"><text x="0" y="0" font-size="21.33" clip-path="url(#c1m)">1</text></g></g>
<g transform="translate(16,177.6) rotate(-90)"><text x="0.1" y="0" font-size="21">x</text><text x="10.1" y="5" font-size="15">2</text><text transform="translate(20.4945,-0.23) rotate(0.03) scale(1.41508,1)" font-size="16" stroke="none">=</text><text x="38.6 50.6 56.6 68.6" y="0" font-size="21.33">0.75</text></g>
<g transform="translate(16,264.5) rotate(-90)"><text x="0.1" y="0" font-size="21">x</text><text x="10.1" y="5" font-size="15">2</text><text transform="translate(21.3945,-0.23) rotate(0.03) scale(1.41508,1)" font-size="16" stroke="none">=</text><text x="39.5 51.5 57.5" y="0" font-size="21.33">0.5</text></g>
<g transform="translate(16,363) rotate(-90)"><text x="0.1" y="0" font-size="21">x</text><text x="10.1" y="5" font-size="15">2</text><text transform="translate(21.8945,-0.23) rotate(0.03) scale(1.41508,1)" font-size="16" stroke="none">=</text><text x="40 52 58 70" y="0" font-size="21.33">0.25</text></g>
<g transform="translate(16,440) rotate(-90)"><text x="0.1" y="0" font-size="21">x</text><text x="10.1" y="5" font-size="15">2</text><text transform="translate(21.8945,-0.23) rotate(0.03) scale(1.41508,1)" font-size="16" stroke="none">=</text><text x="40" y="0" font-size="21.33">0</text></g>
<text x="642.7" y="17" font-size="16.8" stroke="none">3</text>
<text x="642.7" y="132" font-size="16.8" stroke="none">2</text>
<g transform="translate(643,247)"><text x="0" y="0" font-size="16.8" clip-path="url(#c1l)" stroke="none">1</text></g>
<text x="642.7" y="362" font-size="16.8" stroke="none">0</text>
<text x="642.7" y="478" font-size="16.8" stroke="none">-</text>
<g transform="translate(647.794,477)"><text x="0" y="0" font-size="16.8" clip-path="url(#c1l)" stroke="none">1</text></g>
</g>
</svg>

</body></html>
